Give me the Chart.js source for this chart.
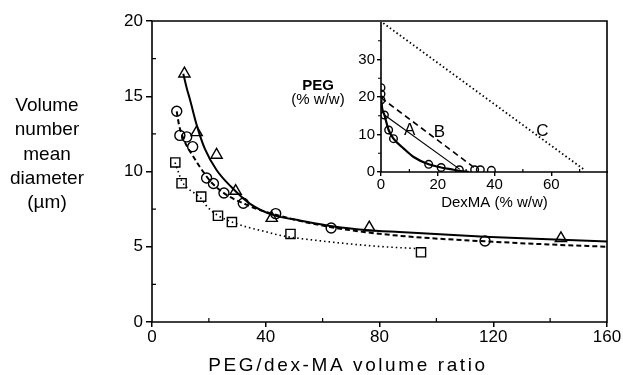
<!DOCTYPE html>
<html>
<head>
<meta charset="utf-8">
<script src="https://cdn.jsdelivr.net/npm/chart.js@4.4.1/dist/chart.umd.min.js"></script>
<style>
  html, body { margin: 0; padding: 0; background: #fff; }
  #wrap { position: relative; width: 623px; height: 375px; }
  #mainChart { position: absolute; left: 0; top: 0; width: 623px; height: 375px; }
  #insetChart { position: absolute; left: 280px; top: 0; width: 343px; height: 215px; }
</style>
</head>
<body>
<div id="wrap">
  <canvas id="mainChart" width="623" height="375"></canvas>
  <canvas id="insetChart" width="343" height="215"></canvas>
</div>
<script>
// Main plot: volume number mean diameter vs PEG/dex-MA volume ratio
const triX = [11.4, 15.7, 22.7, 29.4, 42.1, 76.4, 143.8];
const triY = [16.5, 12.6, 11.1, 8.7, 6.9, 6.27, 5.56];
const circX = [8.7, 9.8, 12.2, 14.3, 19.2, 21.6, 25.3, 32.1, 43.5, 63.0, 117.1];
const circY = [14.0, 12.4, 12.3, 11.65, 9.57, 9.2, 8.57, 7.89, 7.2, 6.25, 5.38];
const sqX = [8.2, 10.4, 17.3, 23.2, 28.1, 48.7, 94.6];
const sqY = [10.6, 9.22, 8.33, 7.06, 6.64, 5.85, 4.63];

// fitted curves
const solidX = [11.0, 12.2, 13.4, 15.7, 18.6, 22.7, 28.0, 34.5, 42.7, 52, 64, 75, 87, 117, 144, 160];
const solidY = [16.5, 15.55, 14.75, 13.1, 11.5, 10.1, 8.95, 7.85, 7.1, 6.75, 6.35, 6.12, 5.98, 5.67, 5.47, 5.35];
const dashX = [8.7, 9.5, 10.8, 12.5, 14.5, 16.5, 18.5, 21, 25, 29, 32, 37, 43, 52, 63, 75, 90, 117, 140, 160];
const dashY = [14.0, 13.1, 12.3, 11.6, 11.0, 10.4, 9.85, 9.25, 8.6, 8.15, 7.9, 7.5, 7.15, 6.72, 6.3, 5.97, 5.68, 5.36, 5.15, 5.0];
const dotX = [8.1, 9.3, 10.5, 12.5, 15, 17.3, 19.2, 23, 28, 33, 40, 46, 58, 70, 80, 93];
const dotY = [10.6, 9.95, 9.35, 8.9, 8.55, 8.2, 7.7, 7.1, 6.65, 6.33, 6.0, 5.72, 5.42, 5.18, 5.02, 4.88];

const mainXTicks = [0, 40, 80, 120, 160];
const mainYTicks = [0, 5, 10, 15, 20];
const yTitleLines = ['Volume', 'number', 'mean', 'diameter', '(µm)'];
const xTitle = 'PEG/dex-MA volume ratio';

// Inset: phase diagram PEG vs DexMA
const binX = [0, 0, 0, 1.2, 2.7, 4.4, 16.8, 21.2, 27.6, 33, 35, 38.9];
const binY = [22.5, 20.8, 19.2, 15.2, 11.2, 8.9, 2.05, 1.2, 0.6, 0.6, 0.6, 0.45];
const binCurveX = [0.1, 0.4, 1.2, 2.7, 4.4, 8, 11.5, 16.8, 21.2, 25.6, 28, 31];
const binCurveY = [19.2, 17, 15.2, 11.2, 8.9, 6.25, 4.0, 2.05, 1.2, 0.6, 0.25, 0];
const tieAX = [1.2, 27.8];
const tieAY = [15.2, 0.7];
const tieBX = [0, 33.5];
const tieBY = [19.8, 0.8];
const tieCX = [0.8, 72];
const tieCY = [39.7, 0.4];
const tieLabels = [['A', 10.1, 11.1], ['B', 20.6, 10.7], ['C', 56.9, 10.9]];

const insetXTicks = [0, 20, 40, 60];
const insetYTicks = [0, 10, 20, 30];

const FONT = "'Liberation Sans', Arial, sans-serif";

function pts(xs, ys) {
    return xs.map((x, i) => ({ x: x, y: ys[i] }));
}

// Frame, minor ticks and free text drawn after the chart
function decorPlugin(cfg) {
    return {
        id: 'decor',
        afterDraw(chart) {
            const ctx = chart.ctx;
            const a = chart.chartArea;
            const sx = chart.scales.x;
            const sy = chart.scales.y;
            ctx.save();
            ctx.strokeStyle = '#000';
            ctx.lineWidth = 1.6;
            ctx.beginPath();
            ctx.moveTo(a.left, a.top);
            ctx.lineTo(a.left, a.bottom);
            ctx.lineTo(a.right, a.bottom);
            if (cfg.full) {
                ctx.lineTo(a.right, a.top);
                ctx.lineTo(a.left, a.top);
            }
            ctx.stroke();

            ctx.lineWidth = 1.2;
            ctx.beginPath();
            cfg.minorX.forEach(v => {
                const px = sx.getPixelForValue(v);
                ctx.moveTo(px, a.bottom);
                ctx.lineTo(px, a.bottom - cfg.minorLen);
            });
            cfg.minorY.forEach(v => {
                const py = sy.getPixelForValue(v);
                ctx.moveTo(a.left, py);
                ctx.lineTo(a.left + cfg.minorYDir * cfg.minorLen, py);
            });
            ctx.stroke();

            ctx.fillStyle = '#000';
            ctx.textAlign = 'center';
            ctx.textBaseline = 'middle';
            if (cfg.texts) {
                cfg.texts.forEach(t => {
                    ctx.font = t.font;
                    ctx.letterSpacing = t.spacing || '0px';
                    ctx.fillText(t.text, t.x, t.y);
                });
                ctx.letterSpacing = '0px';
            }
            if (cfg.dataTexts) {
                cfg.dataTexts.forEach(t => {
                    ctx.font = cfg.dataFont;
                    ctx.fillText(t[0], sx.getPixelForValue(t[1]), sy.getPixelForValue(t[2]));
                });
            }
            ctx.restore();
        }
    };
}

function markerSet(data, style, radius) {
    return {
        data: data,
        pointStyle: style,
        pointRadius: radius,
        pointBorderWidth: 1.4,
        borderColor: '#000',
        backgroundColor: 'rgba(0,0,0,0)',
        showLine: false
    };
}

function curveSet(data, width, dash) {
    return {
        data: data,
        showLine: true,
        pointRadius: 0,
        borderColor: '#000',
        borderWidth: width,
        borderDash: dash,
        cubicInterpolationMode: 'monotone',
        fill: false
    };
}

// Main chart
const mainTexts = yTitleLines.map((t, i) => ({ text: t, x: 47, y: 106 + i * 24.2, font: '19px ' + FONT }));
mainTexts.push({ text: xTitle, x: 348, y: 366, font: '19px ' + FONT, spacing: '2.6px' });

new Chart(document.getElementById('mainChart'), {
    type: 'scatter',
    data: {
        datasets: [
            curveSet(pts(solidX, solidY), 2, []),
            curveSet(pts(dashX, dashY), 2, [5, 3]),
            curveSet(pts(dotX, dotY), 1.6, [1.5, 3]),
            markerSet(pts(triX, triY), 'triangle', 6.5),
            markerSet(pts(circX, circY), 'circle', 5),
            markerSet(pts(sqX, sqY), 'rect', 6.5)
        ]
    },
    options: {
        responsive: false,
        animation: false,
        layout: { padding: { top: 21, right: 16, left: 0, bottom: 0 } },
        plugins: { legend: { display: false }, tooltip: { enabled: false } },
        scales: {
            x: {
                type: 'linear', min: 0, max: 160,
                afterBuildTicks: s => { s.ticks = mainXTicks.map(v => ({ value: v })); },
                afterFit: s => { s.height = 53; },
                ticks: { color: '#000', font: { family: FONT, size: 17 }, padding: 0, maxRotation: 0 },
                grid: { drawOnChartArea: false, drawTicks: true, tickLength: 5, color: '#000', lineWidth: 1.5 },
                border: { display: false }
            },
            y: {
                type: 'linear', min: 0, max: 20,
                afterBuildTicks: s => { s.ticks = mainYTicks.map(v => ({ value: v })); },
                afterFit: s => { s.width = 152; },
                ticks: { color: '#000', font: { family: FONT, size: 17 }, padding: 3 },
                grid: { drawOnChartArea: false, drawTicks: true, tickLength: 6, color: '#000', lineWidth: 1.5 },
                border: { display: false }
            }
        }
    },
    plugins: [decorPlugin({
        full: true,
        minorX: [20, 60, 100, 140],
        minorY: [2.5, 7.5, 12.5, 17.5],
        minorYDir: 1,
        minorLen: 4,
        texts: mainTexts
    })]
});

// Inset chart
new Chart(document.getElementById('insetChart'), {
    type: 'scatter',
    data: {
        datasets: [
            curveSet(pts(binCurveX, binCurveY), 2.2, []),
            curveSet(pts(tieAX, tieAY), 1.2, []),
            curveSet(pts(tieBX, tieBY), 1.6, [6, 4]),
            curveSet(pts(tieCX, tieCY), 1.8, [1.5, 2.6]),
            markerSet(pts(binX, binY), 'circle', 3.8)
        ]
    },
    options: {
        responsive: false,
        animation: false,
        layout: { padding: { top: 22, right: 15, left: 0, bottom: 0 } },
        plugins: { legend: { display: false }, tooltip: { enabled: false } },
        scales: {
            x: {
                type: 'linear', min: 0, max: 80,
                afterBuildTicks: s => { s.ticks = insetXTicks.map(v => ({ value: v })); },
                afterFit: s => { s.height = 43; },
                ticks: { color: '#000', font: { family: FONT, size: 15 }, padding: 0, maxRotation: 0 },
                grid: { drawOnChartArea: false, drawTicks: true, tickLength: 4, color: '#000', lineWidth: 1.4 },
                border: { display: false },
                title: {
                    display: true, text: 'DexMA (% w/w)', color: '#000',
                    font: { family: FONT, size: 15, lineHeight: 1 }, padding: { top: 0, bottom: 5 }
                }
            },
            y: {
                type: 'linear', min: 0, max: 40,
                afterBuildTicks: s => { s.ticks = insetYTicks.map(v => ({ value: v })); },
                afterFit: s => { s.width = 101; },
                ticks: { color: '#000', font: { family: FONT, size: 15 }, padding: 2 },
                grid: { drawOnChartArea: false, drawTicks: true, tickLength: 4, color: '#000', lineWidth: 1.4 },
                border: { display: false }
            }
        }
    },
    plugins: [decorPlugin({
        full: false,
        minorX: [10, 30, 50, 70],
        minorY: [5, 15, 25, 35],
        minorYDir: -1,
        minorLen: 3,
        texts: [
            { text: 'PEG', x: 38, y: 86, font: 'bold 15px ' + FONT },
            { text: '(% w/w)', x: 38, y: 100, font: '15px ' + FONT }
        ],
        dataTexts: tieLabels,
        dataFont: '17px ' + FONT
    })]
});
</script>
</body>
</html>
